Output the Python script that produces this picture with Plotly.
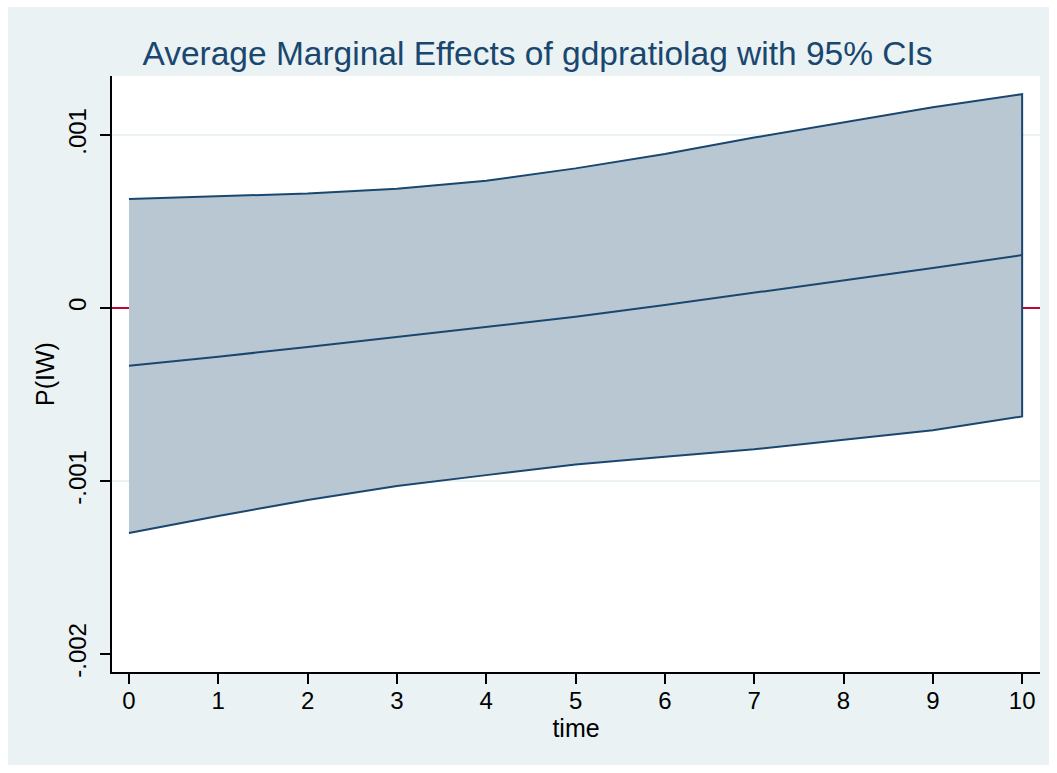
import plotly.graph_objects as go

time = list(range(11))
upper = [0.630e-3, 0.644e-3, 0.662e-3, 0.690e-3, 0.736e-3, 0.807e-3, 0.890e-3, 0.985e-3, 1.073e-3, 1.160e-3, 1.236e-3]
margin = [-0.334e-3, -0.282e-3, -0.225e-3, -0.167e-3, -0.109e-3, -0.051e-3, 0.017e-3, 0.087e-3, 0.157e-3, 0.231e-3, 0.306e-3]
lower = [-1.300e-3, -1.202e-3, -1.110e-3, -1.029e-3, -0.966e-3, -0.905e-3, -0.860e-3, -0.817e-3, -0.761e-3, -0.706e-3, -0.627e-3]

ytick_vals = [-0.002, -0.001, 0, 0.001]
ytick_text = ["-.002", "-.001", "0", ".001"]
grid_vals = [-0.001, 0.001]
xtick_vals = list(range(11))

NAVY = "#1A476F"
FILL = "#B9C7D2"
BG = "#EAF2F3"
RED = "#C10534"
FONT = "Liberation Sans, Arial, sans-serif"

fig = go.Figure()
fig.add_trace(go.Scatter(
    x=time + time[::-1], y=upper + lower[::-1],
    fill="toself", fillcolor=FILL, mode="lines",
    line=dict(color=NAVY, width=2), hoverinfo="skip", showlegend=False))
fig.add_trace(go.Scatter(
    x=time, y=margin, mode="lines",
    line=dict(color=NAVY, width=2), showlegend=False))

shapes = []
# outer background panel
shapes.append(dict(type="rect", xref="paper", yref="paper",
                   x0=(8 - 112) / 928, x1=(1049 - 112) / 928,
                   y0=(672 - 765) / 596, y1=(672 - 7) / 596,
                   fillcolor=BG, line=dict(width=0), layer="below"))
# white plot region
shapes.append(dict(type="rect", xref="paper", yref="paper", x0=0, x1=1, y0=0, y1=1,
                   fillcolor="white", line=dict(width=0), layer="below"))
for g in grid_vals:
    shapes.append(dict(type="line", xref="paper", yref="y", x0=0, x1=1, y0=g, y1=g,
                       line=dict(color=BG, width=2), layer="below"))
shapes.append(dict(type="line", xref="paper", yref="y", x0=0, x1=1, y0=0, y1=0,
                   line=dict(color=RED, width=2.2), layer="below"))

fig.update_layout(
    width=1057, height=773,
    margin=dict(l=112, r=17, t=76, b=101),
    paper_bgcolor="white", plot_bgcolor="white",
    font=dict(family=FONT, color="black", size=24),
    title=dict(text="Average Marginal Effects of gdpratiolag with 95% CIs",
               font=dict(family=FONT, size=33.5, color=NAVY),
               xref="paper", x=(537.5 - 112) / 928, xanchor="center",
               yref="container", y=1 - 53 / 773, yanchor="middle"),
    shapes=shapes,
    showlegend=False,
)
fig.update_xaxes(
    range=[-0.19, 10.2], tickmode="array", tickvals=xtick_vals,
    showgrid=False, zeroline=False, showline=True, linecolor="black", linewidth=1.5,
    ticks="outside", ticklen=10, tickwidth=1.5, tickcolor="black", ticklabelstandoff=-4,
    tickfont=dict(size=24), title=dict(text="time", font=dict(size=25), standoff=4))
fig.update_yaxes(
    range=[-2.104e-3, 1.341e-3], tickmode="array", tickvals=ytick_vals, ticktext=ytick_text,
    tickangle=-90,
    showgrid=False, zeroline=False, showline=True, linecolor="black", linewidth=1.5,
    ticks="outside", ticklen=10, tickwidth=1.5, tickcolor="black", ticklabelstandoff=5,
    tickfont=dict(size=24), title=dict(text="P(IW)", font=dict(size=25), standoff=2))

fig.write_html("out.html")
